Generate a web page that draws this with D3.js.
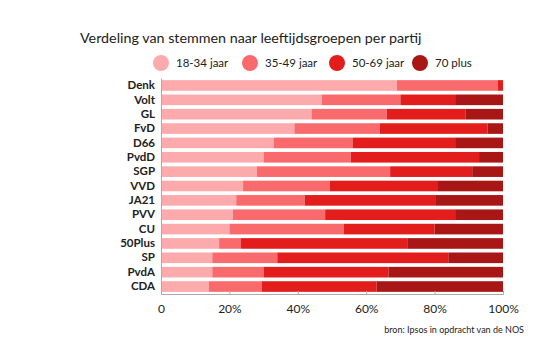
<!DOCTYPE html>
<html><head><meta charset="utf-8">
<script src="https://cdn.jsdelivr.net/npm/d3@7"></script>
<style>body{margin:0;background:#fff;}svg{display:block;}</style>
</head><body>
<svg id="c" width="559" height="355"></svg>
<script>
const parties = ["Denk","Volt","GL","FvD","D66","PvdD","SGP","VVD","JA21","PVV","CU","50Plus","SP","PvdA","CDA"];
const groups = ["18-34 jaar","35-49 jaar","50-69 jaar","70 plus"];
const age18_34 = [69,47,44,39,33,30,28,24,22,21,20,17,15,15,14];
const age35_49 = [29.5,23,22,25,23,25.5,39,25.4,20,27,33.5,6.4,19,15,15.5];
const age50_69 = [1.5,16,23,31.5,30,37.5,24,31.6,38.4,38,26.5,48.6,50,36.5,33.5];
const age70plus = [0,14,11,4.5,14,7,9,19,19.6,14,20,28,16,33.5,37];
const ticks = [0,20,40,60,80,100];
const colors = ["#fcaaac","#f96a6d","#e31d1b","#a81616"];

const series = [age18_34, age35_49, age50_69, age70plus];
const rows = parties.map((p,i)=>{const o={party:p}; groups.forEach((g,j)=>o[g]=series[j][i]); return o;});
const stack = d3.stack().keys(groups)(rows);

const svg = d3.select("#c");
const font = "Lato, 'Open Sans', sans-serif";
const x = d3.scaleLinear().domain([0,100]).range([161,503]);
const y = d3.scaleBand().domain(parties).range([78,294]).paddingInner(0.26).paddingOuter(0.15);

svg.append("text").attr("x",80).attr("y",43).attr("font-family",font).attr("font-size",14.3)
  .attr("fill","#222").text("Verdeling van stemmen naar leeftijdsgroepen per partij");

const lx = [161,250,337,420];
const lg = svg.append("g");
groups.forEach((g,i)=>{
  lg.append("circle").attr("cx",lx[i]).attr("cy",63).attr("r",8).attr("fill",colors[i]);
  lg.append("text").attr("x",lx[i]+15).attr("y",67).attr("font-family",font).attr("font-size",11.5)
    .attr("fill","#222").text(g);
});

svg.append("g").selectAll("g").data(stack).join("g").attr("fill",(d,i)=>colors[i])
  .selectAll("rect").data(d=>d).join("rect")
  .attr("x",d=>x(d[0])).attr("width",d=>Math.max(0,x(d[1])-x(d[0])))
  .attr("y",d=>y(d.data.party)).attr("height",y.bandwidth());

// axes
const xa = svg.append("g").attr("transform","translate(0,294)")
  .call(d3.axisBottom(x).tickValues(ticks).tickFormat(d=>d===0?"0":d+"%").tickSize(-3).tickPadding(10));
xa.select(".domain").attr("stroke","#aaa");
xa.selectAll(".tick line").attr("stroke","#aaa");
xa.selectAll("text").attr("font-family",font).attr("font-size",12).attr("fill","#222");

const ya = svg.append("g").attr("transform","translate(161,0)")
  .call(d3.axisLeft(y).tickSize(0).tickPadding(6));
ya.select(".domain").attr("stroke","#aaa");
ya.selectAll("text").attr("font-family",font).attr("font-size",11.5).attr("font-weight","bold").attr("fill","#222");

svg.append("text").attr("x",524).attr("y",333).attr("text-anchor","end").attr("font-family",font)
  .attr("font-size",9).attr("fill","#222").text("bron: Ipsos in opdracht van de NOS");
</script>
</body></html>
